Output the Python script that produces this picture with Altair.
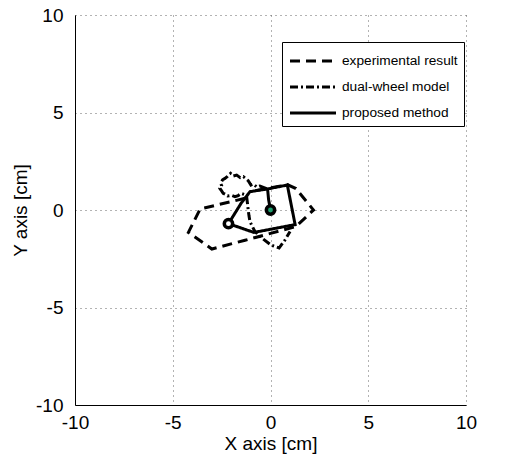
import altair as alt
import pandas as pd

series_names = ["experimental result", "dual-wheel model", "proposed method"]

exp_x = [-1.3, -3.6, -4.2, -3.0, -1.3, 1.3, 2.2, 1.3, 0.86, -1.0]
exp_y = [0.6, 0.05, -1.15, -2.0, -1.55, -0.85, 0.0, 1.1, 1.3, 0.95]

dual_x = [-0.2, -0.54, -0.7, -0.88, -1.0, -1.14, -1.25, -1.39, -1.55, -1.73, -1.9,
          -2.04, -2.2, -2.33, -2.45, -2.55, -2.5, -2.59, -2.5, -2.42, -2.3,
          -2.2, -2.0, -1.82, -1.65, -1.5, -1.35, -1.22, -1.18, -1.14, -1.1, -1.05,
          -0.8, -0.44, 0.03, 0.44, 0.74, 1.0]
dual_y = [1.1, 1.23, 1.18, 1.33, 1.28, 1.5, 1.6, 1.71, 1.66, 1.79, 1.74,
          1.88, 1.72, 1.62, 1.55, 1.37, 1.25, 1.11, 0.98, 0.86, 0.8,
          0.72, 0.75, 0.68, 0.74, 0.85, 0.8, 0.68, 0.35, 0.0, -0.3, -0.6,
          -1.1, -1.44, -1.8, -1.95, -1.54, -1.1]

prop_x = [0.0, -0.1, -0.15, 0.86, 1.26, -0.85, -2.15, -1.5, -1.05, -0.15]
prop_y = [0.0, 0.55, 1.08, 1.28, -0.75, -1.15, -0.7, 0.35, 0.94, 1.08]

marker_x = [0.0, -2.15]
marker_y = [0.0, -0.7]
marker_fill = ["#1f9e6e", "white"]

rows = []
for name, xs, ys in [(series_names[0], exp_x, exp_y),
                     (series_names[1], dual_x, dual_y),
                     (series_names[2], prop_x, prop_y)]:
    for i, (a, b) in enumerate(zip(xs, ys)):
        rows.append({"series": name, "x": a, "y": b, "idx": i})
df = pd.DataFrame(rows)
mdf = pd.DataFrame({"x": marker_x, "y": marker_y, "fill": marker_fill})

ticks = [-10, -5, 0, 5, 10]
font = "Liberation Sans"
fs = 19

common = dict(values=ticks, labelFontSize=fs, titleFontSize=fs, titleFontWeight="normal",
              tickSize=0, grid=True, gridDash=[1, 4], gridColor="#666666",
              domainColor="black", labelColor="black", titleColor="black",
              labelFlush=False, labelOverlap=False, labelFont=font, titleFont=font,
              labelExpr="'' + datum.value")

xenc = alt.X("x:Q", scale=alt.Scale(domain=[-10, 10], nice=False),
             axis=alt.Axis(title="X axis [cm]", labelPadding=8, titlePadding=2, **common))
yenc = alt.Y("y:Q", scale=alt.Scale(domain=[-10, 10], nice=False),
             axis=alt.Axis(title="Y axis [cm]", labelPadding=12, titlePadding=5, **common))

lines = alt.Chart(df).mark_line(color="black", strokeWidth=3).encode(
    x=xenc, y=yenc,
    order="idx:Q",
    strokeDash=alt.StrokeDash(
        "series:N",
        scale=alt.Scale(domain=series_names, range=[[10, 6], [8, 3, 2, 3], [1, 0]]),
        legend=alt.Legend(
            title=None, orient="none", legendX=207, legendY=27,
            symbolType="M-2,0H2", symbolSize=529, symbolStrokeWidth=3,
            symbolStrokeColor="black", symbolOffset=12, labelFontSize=13.7, labelFont=font,
            labelColor="black", strokeColor="black", fillColor="white",
            padding=6, rowPadding=6, labelOffset=16, labelLimit=300,
        ),
    ),
)

markers = alt.Chart(mdf).mark_point(shape="circle", size=70, strokeWidth=3.5,
                                    stroke="black", filled=True, opacity=1).encode(
    x="x:Q", y="y:Q", fill=alt.Fill("fill:N", scale=None),
)

chart = alt.layer(lines, markers).properties(
    width=391, height=390,
    autosize=alt.AutoSizeParams(type="none"),
    padding={"left": 75, "top": 15, "right": 55, "bottom": 52},
).configure_view(stroke=None).configure_axis(domainWidth=1)

chart.save("out.html", embed_options={"renderer": "svg", "actions": False})
